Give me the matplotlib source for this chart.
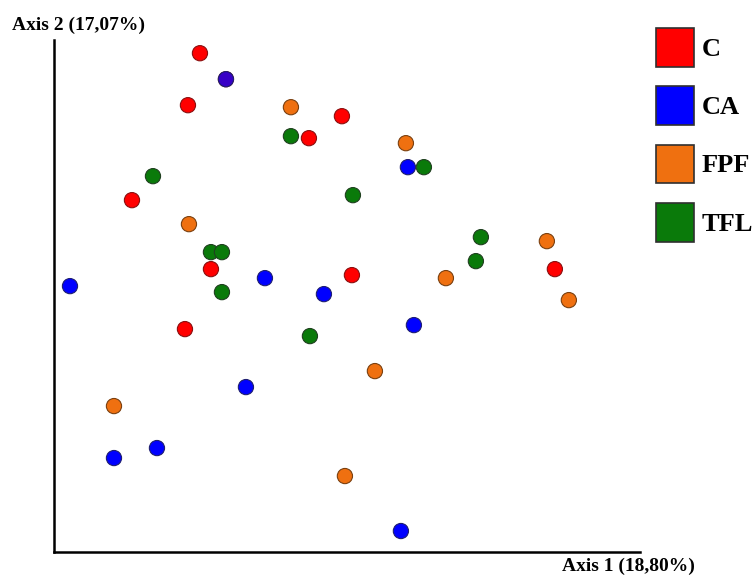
import matplotlib.pyplot as plt
from matplotlib.colors import to_rgba
from matplotlib.patches import Patch

# scores (axis units = distance from the origin corner)
c_x = [146, 134, 288, 255, 78, 157, 298, 131, 501, 172]
c_y = [499, 447, 436, 414, 352, 283, 277, 223, 283, 473]

ca_x = [16, 211, 270, 354, 360, 192, 60, 103, 347, 172]
ca_y = [266, 274, 258, 385, 227, 165, 94, 104, 21, 473]

fpf_x = [237, 352, 135, 493, 392, 515, 321, 60, 291]
fpf_y = [445, 409, 328, 311, 274, 252, 181, 146, 76]

tfl_x = [237, 370, 99, 299, 157, 168, 427, 422, 168, 256]
tfl_y = [416, 385, 376, 357, 300, 300, 315, 291, 260, 216]

groups = ['C', 'CA', 'FPF', 'TFL']
colors = ['#ff0000', '#0000ff', '#ef7010', '#0a7a0a']
edges = ['#8a1010', '#202070', '#7a4010', '#204020']

fig = plt.figure(figsize=(7.54, 5.77), dpi=100)
ax = fig.add_axes([0.0716, 0.0433, 0.777, 0.887])

data = [(c_x, c_y), (ca_x, ca_y), (fpf_x, fpf_y), (tfl_x, tfl_y)]
for (x, y), col, ed in zip(data, colors, edges):
    fc = [to_rgba(col) for _ in x]
    if col == '#0000ff':
        # last CA sample sits on top of a C sample -> looks purple
        fc[-1] = to_rgba(col, 0.78)
    ax.scatter(x, y, s=120, c=fc, edgecolors=ed, linewidths=0.8, zorder=3)

ax.set_xlim(0, 586)
ax.set_ylim(0, 512)
ax.set_xticks([])
ax.set_yticks([])
ax.spines['top'].set_visible(False)
ax.spines['right'].set_visible(False)
ax.spines['left'].set_linewidth(1.8)
ax.spines['bottom'].set_linewidth(1.8)

font = dict(family='Liberation Serif', weight='bold')
fig.text(12 / 754, 1 - 25 / 577, 'Axis 2 (17,07%)', fontsize=14, va='center', **font)
fig.text(562 / 754, 1 - 566 / 577, 'Axis 1 (18,80%)', fontsize=14, va='center', **font)

handles = [Patch(facecolor=col, edgecolor='#303030', linewidth=1.2) for col in colors]
leg = fig.legend(handles, groups, loc='upper left', bbox_to_anchor=(656 / 754, 1 - 28 / 577),
                 frameon=False, borderpad=0, borderaxespad=0, handlelength=1.43,
                 handleheight=1.87, labelspacing=0.75, handletextpad=0.3,
                 prop=dict(family='Liberation Serif', weight='bold', size=19))

fig.savefig('out.png', dpi=100)
